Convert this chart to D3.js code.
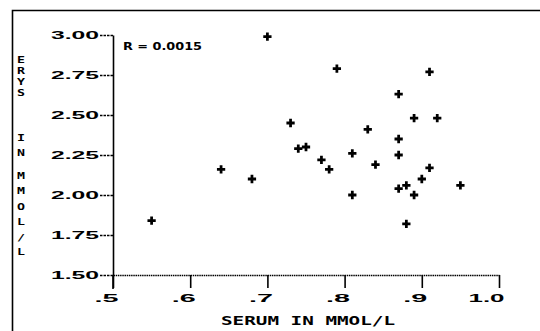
<!DOCTYPE html>
<meta charset="utf-8">
<script src="https://cdn.jsdelivr.net/npm/d3@7"></script>
<style>
  body { margin: 0; background: #fff; }
  text { fill: #000; }
  .plot { font-family: "DejaVu Sans Mono", monospace; font-size: 12.5px; font-weight: bold; }
</style>
<body>
<script>

// serum vs erythrocyte magnesium
var serum = [0.55, 0.64, 0.68, 0.70, 0.73, 0.74, 0.75, 0.77, 0.78, 0.79, 0.81, 0.81, 0.83, 0.84,
             0.87, 0.87, 0.87, 0.87, 0.88, 0.88, 0.89, 0.89, 0.90, 0.91, 0.91, 0.92, 0.95];
var erys  = [1.84, 2.16, 2.10, 2.99, 2.45, 2.29, 2.30, 2.22, 2.16, 2.79, 2.26, 2.00, 2.41, 2.19,
             2.63, 2.35, 2.25, 2.04, 2.06, 1.82, 2.48, 2.00, 2.10, 2.77, 2.17, 2.48, 2.06];

var xTicks = [0.5, 0.6, 0.7, 0.8, 0.9, 1.0];
var xTickLabels = [".5", ".6", ".7", ".8", ".9", "1.0"];
var yTicks = [1.5, 1.75, 2.0, 2.25, 2.5, 2.75, 3.0];
var yTickLabels = ["1.50", "1.75", "2.00", "2.25", "2.50", "2.75", "3.00"];
var xTitle = "SERUM IN MMOL/L";
var yTitle = "ERYS IN MMOL/L";
var rLabel = "R = 0.0015";

var width = 540, height = 331;
var charW = 12;

var svg = d3.select("body").append("svg")
    .attr("width", width)
    .attr("height", height);

// frame (only top and left edges fall inside the picture)
svg.append("path")
    .attr("d", "M12.5," + height + "V10.5H" + width)
    .attr("fill", "none")
    .attr("stroke", "#000")
    .attr("stroke-width", 1.6);

var x = d3.scaleLinear().domain([0.5, 1.0]).range([113, 499]);
var y = d3.scaleLinear().domain([1.5, 3.0]).range([275, 35]);

var plot = svg.append("g").attr("class", "plot");

// x axis: dotted baseline, ticks hanging down
var xAxis = plot.append("g")
    .attr("transform", "translate(0," + y(1.5) + ")")
    .call(d3.axisBottom(x)
        .tickValues(xTicks)
        .tickFormat(function(d, i) { return xTickLabels[i]; })
        .tickSize(13)
        .tickSizeOuter(0)
        .tickPadding(7));
xAxis.select(".domain")
    .attr("stroke-width", 1.5)
    .attr("stroke-dasharray", "1.5,0.7");
xAxis.selectAll(".tick line").attr("stroke-width", 1.6);
xAxis.selectAll(".tick text")
    .attr("font-size", null)
    .attr("font-family", null)
    .attr("text-anchor", "end")
    .attr("x", 5)
    .attr("textLength", function(d, i) { return xTickLabels[i].length * charW; })
    .attr("lengthAdjust", "spacingAndGlyphs");

// y axis: solid spine, short dashed ticks to the left
var yAxis = plot.append("g")
    .attr("transform", "translate(" + x(0.5) + ",0)")
    .call(d3.axisLeft(y)
        .tickValues(yTicks)
        .tickFormat(function(d, i) { return yTickLabels[i]; })
        .tickSize(13)
        .tickSizeOuter(0)
        .tickPadding(1));
yAxis.select(".domain").attr("stroke-width", 1.6);
yAxis.selectAll(".tick line")
    .attr("stroke-width", 1.4)
    .attr("stroke-dasharray", "2.5,1");
yAxis.selectAll(".tick text")
    .attr("font-size", null)
    .attr("font-family", null)
    .attr("textLength", function(d, i) { return yTickLabels[i].length * charW; })
    .attr("lengthAdjust", "spacingAndGlyphs");
// spine runs a little past the x axis
yAxis.append("line")
    .attr("y1", y(1.5))
    .attr("y2", y(1.5) + 14)
    .attr("stroke", "#000")
    .attr("stroke-width", 1.6);

// axis titles
plot.append("text")
    .attr("x", (x(0.5) + x(1.0)) / 2 + 2)
    .attr("y", 325)
    .attr("text-anchor", "middle")
    .attr("textLength", xTitle.length * 11.6)
    .attr("lengthAdjust", "spacingAndGlyphs")
    .text(xTitle);

// y title is written one letter per line, top to bottom
var letterY = [62.5, 73.5, 84.5, 95.5, null, 141, 156, null, 179, 194, 210, 225, 241, 255];
var letters = yTitle.split("").map(function(ch, i) { return {ch: ch, y: letterY[i]}; })
    .filter(function(d) { return d.ch !== " "; });
plot.append("g").selectAll("text")
    .data(letters)
    .enter().append("text")
    .attr("x", 17)
    .attr("y", function(d) { return d.y; })
    .style("font-size", "9.5px")
    .attr("textLength", 8)
    .attr("lengthAdjust", "spacingAndGlyphs")
    .text(function(d) { return d.ch; });

// correlation note
svg.append("text")
    .attr("x", 123)
    .attr("y", 50)
    .style("font-family", "'DejaVu Sans', sans-serif")
    .style("font-weight", "bold")
    .style("font-size", "11px")
    .attr("textLength", 79)
    .attr("lengthAdjust", "spacingAndGlyphs")
    .text(rLabel);

// points
var cross = d3.symbol().type(d3.symbolCross).size(38);
svg.append("g").selectAll("path")
    .data(serum.map(function(s, i) { return {s: s, e: erys[i]}; }))
    .enter().append("path")
    .attr("d", cross)
    .attr("fill", "#000")
    .attr("transform", function(d) { return "translate(" + x(d.s) + "," + y(d.e) + ")"; });

</script>
</body>
